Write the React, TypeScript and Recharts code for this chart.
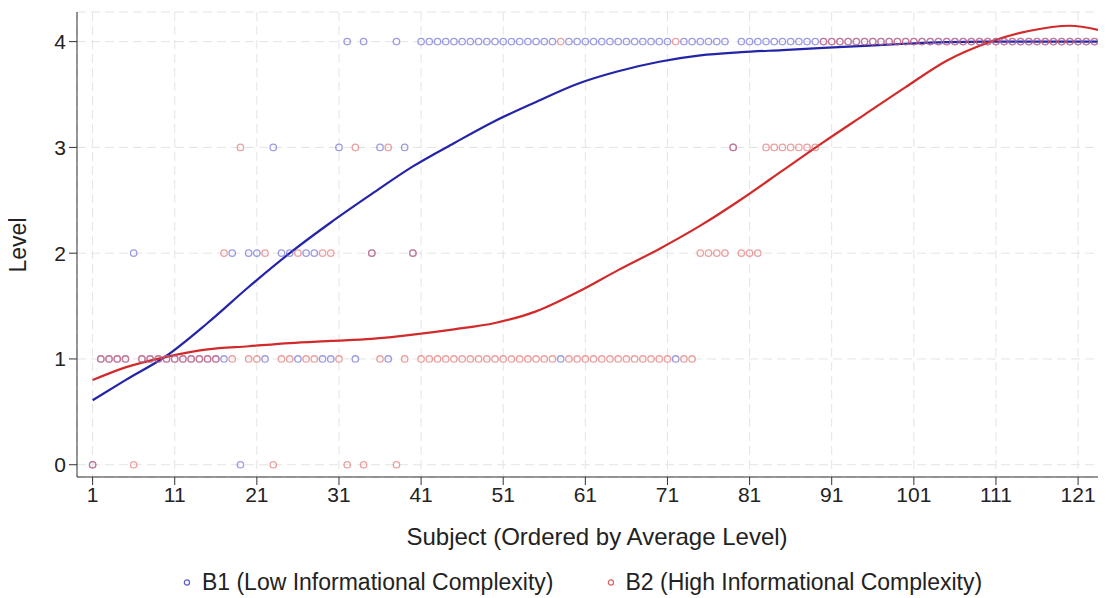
import React from 'react';
import { ComposedChart, Scatter, Line, XAxis, YAxis, CartesianGrid } from 'recharts';

// level chosen by each subject (subjects 1..124)
const b1Levels = [
  0, 1, 1, 1, 1, 2, 1, 1, 1, 1,
  1, 1, 1, 1, 1, 1, 1, 2, 0, 2,
  2, 1, 3, 2, 2, 1, 2, 2, 1, 1,
  3, 4, 1, 4, 2, 3, 1, 4, 3, 2,
  4, 4, 4, 4, 4, 4, 4, 4, 4, 4,
  4, 4, 4, 4, 4, 4, 4, 1, 4, 4,
  4, 4, 4, 4, 4, 4, 4, 4, 4, 4,
  4, 1, 4, 4, 4, 4, 4, 4, 3, 4,
  4, 4, 4, 4, 4, 4, 4, 4, 4, 4,
  4, 4, 4, 4, 4, 4, 4, 4, 4, 4,
  4, 4, 4, 4, 4, 4, 4, 4, 4, 4,
  4, 4, 4, 4, 4, 4, 4, 4, 4, 4,
  4, 4, 4, 4,
];

const b2Levels = [
  0, 1, 1, 1, 1, 0, 1, 1, 1, 1,
  1, 1, 1, 1, 1, 1, 2, 1, 3, 1,
  1, 2, 0, 1, 1, 2, 1, 1, 2, 2,
  1, 0, 3, 0, 2, 1, 3, 0, 1, 2,
  1, 1, 1, 1, 1, 1, 1, 1, 1, 1,
  1, 1, 1, 1, 1, 1, 1, 4, 1, 1,
  1, 1, 1, 1, 1, 1, 1, 1, 1, 1,
  1, 4, 1, 1, 2, 2, 2, 2, 3, 2,
  2, 2, 3, 3, 3, 3, 3, 3, 3, 4,
  4, 4, 4, 4, 4, 4, 4, 4, 4, 4,
  4, 4, 4, 4, 4, 4, 4, 4, 4, 4,
  4, 4, 4, 4, 4, 4, 4, 4, 4, 4,
  4, 4, 4, 4,
];

// smoothed curves
const fitSubjects = [1, 5, 10, 15, 20, 25, 30, 35, 40, 45, 50, 55, 60, 65, 70, 75, 80, 85, 90, 95, 100, 105, 110, 115, 120, 124];
const b1Fit = [0.61, 0.8, 1.03, 1.34, 1.68, 2.0, 2.29, 2.56, 2.82, 3.04, 3.25, 3.43, 3.6, 3.72, 3.81, 3.87, 3.9, 3.92, 3.94, 3.96, 3.98, 3.995, 4.0, 4.0, 4.0, 4.0];
const b2Fit = [0.8, 0.92, 1.02, 1.09, 1.12, 1.15, 1.17, 1.19, 1.23, 1.28, 1.34, 1.45, 1.63, 1.84, 2.04, 2.26, 2.51, 2.78, 3.05, 3.31, 3.57, 3.82, 3.99, 4.1, 4.15, 4.1];

const xTicks = [1, 11, 21, 31, 41, 51, 61, 71, 81, 91, 101, 111, 121];
const yTicks = [0, 1, 2, 3, 4];

const b1Points = b1Levels.map((v, i) => ({ x: i + 1, y: v }));
const b2Points = b2Levels.map((v, i) => ({ x: i + 1, y: v }));
const b1Curve = fitSubjects.map((x, i) => ({ x, y: b1Fit[i] }));
const b2Curve = fitSubjects.map((x, i) => ({ x, y: b2Fit[i] }));

const BLUE_MARK = '#5a5ad2';
const RED_MARK = '#e06060';
const BLUE_LINE = '#2424a8';
const RED_LINE = '#d22a2a';
const FONT = "'Liberation Sans', Arial, sans-serif";

const ring = (color: string) => (p: any) => (
  <circle cx={p.cx} cy={p.cy} r={3.2} fill="none" stroke={color} strokeOpacity={0.6} strokeWidth={1.3} />
);

export default function App() {
  return (
    <div style={{ position: 'relative', width: 1098, height: 590, fontFamily: FONT, color: '#222' }}>
      <ComposedChart width={1098} height={590} margin={{ top: 4, right: 0, left: 0, bottom: 0 }}>
        <CartesianGrid stroke="#e4e4e4" strokeDasharray="9 5" />
        <XAxis
          type="number"
          dataKey="x"
          domain={[-0.9, 124.4]}
          ticks={xTicks}
          allowDataOverflow
          height={121}
          tickSize={8}
          tickMargin={2}
          stroke="#333"
          tick={{ fill: '#222', fontSize: 21 }}
        />
        <YAxis
          type="number"
          dataKey="y"
          domain={[-0.116, 4.28]}
          ticks={yTicks}
          allowDataOverflow
          width={69}
          tickSize={8}
          tickMargin={3}
          stroke="#333"
          tick={{ fill: '#222', fontSize: 21 }}
        />
        <Scatter data={b1Points} dataKey="y" shape={ring(BLUE_MARK)} isAnimationActive={false} />
        <Scatter data={b2Points} dataKey="y" shape={ring(RED_MARK)} isAnimationActive={false} />
        <Line data={b1Curve} dataKey="y" type="monotone" dot={false} stroke={BLUE_LINE} strokeWidth={2.2} isAnimationActive={false} />
        <Line data={b2Curve} dataKey="y" type="monotone" dot={false} stroke={RED_LINE} strokeWidth={2.2} isAnimationActive={false} />
      </ComposedChart>

      <div style={{ position: 'absolute', left: 10, top: 237, transform: 'translate(-50%, -50%) rotate(-90deg)', fontSize: 23, whiteSpace: 'nowrap' }}>
        Level
      </div>
      <div style={{ position: 'absolute', left: 589, top: 529, transform: 'translate(-50%, -50%)', fontSize: 24, whiteSpace: 'nowrap' }}>
        Subject (Ordered by Average Level)
      </div>
      <div style={{ position: 'absolute', left: 573, top: 574, transform: 'translate(-50%, -50%)', display: 'flex', alignItems: 'center', fontSize: 23, whiteSpace: 'nowrap' }}>
        <svg width={14} height={14} style={{ marginRight: 8 }}>
          <circle cx={7} cy={7} r={2.6} fill="none" stroke={BLUE_MARK} strokeWidth={1.2} />
        </svg>
        <span style={{ marginRight: 50 }}>B1 (Low Informational Complexity)</span>
        <svg width={14} height={14} style={{ marginRight: 8 }}>
          <circle cx={7} cy={7} r={2.6} fill="none" stroke={RED_MARK} strokeWidth={1.2} />
        </svg>
        <span>B2 (High Informational Complexity)</span>
      </div>
    </div>
  );
}
